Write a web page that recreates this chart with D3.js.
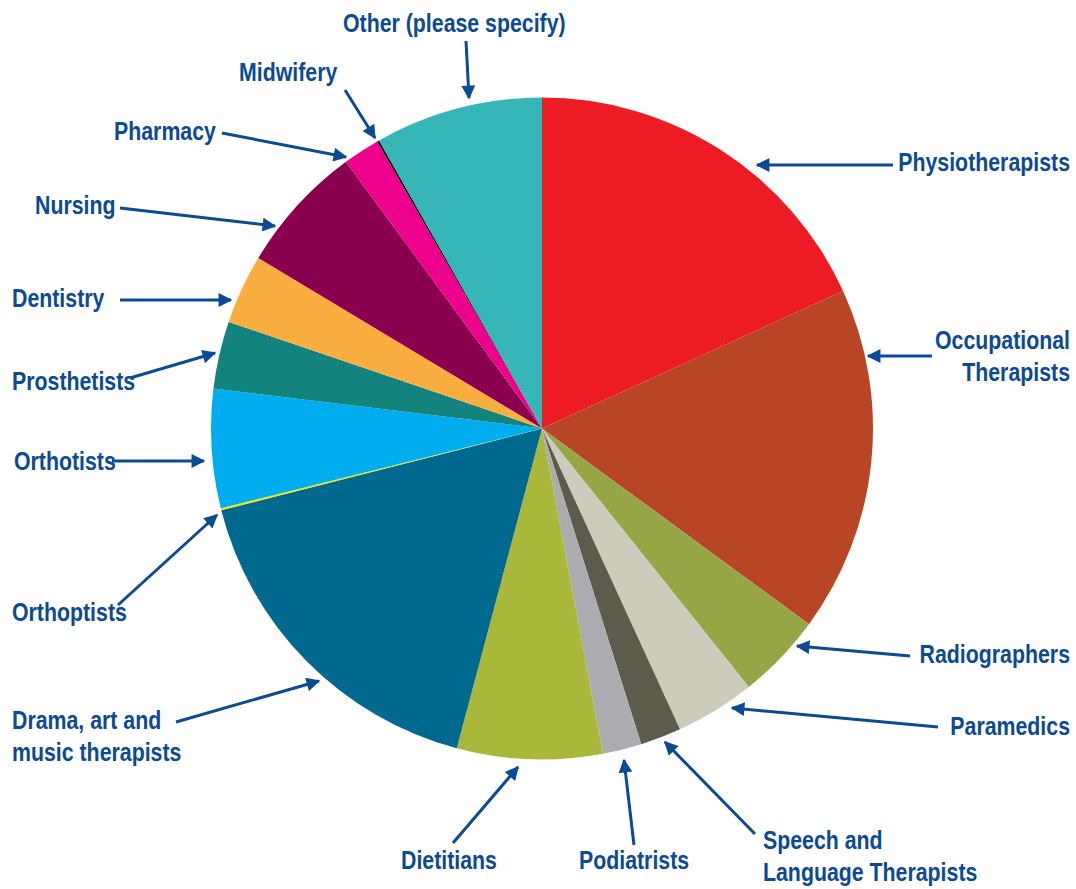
<!DOCTYPE html>
<html><head><meta charset="utf-8">
<script src="https://cdn.jsdelivr.net/npm/d3@7"></script>
<style>
html,body{margin:0;padding:0;background:#fff;}
svg text{font-family:"Liberation Sans","Arial",sans-serif;font-weight:bold;fill:#0b4a94;font-size:26px;}
</style></head>
<body><svg id="c" width="1076" height="889"></svg>
<script>
const categories = ["Physiotherapists","Occupational Therapists","Radiographers","Paramedics","Speech and Language Therapists","Podiatrists","Dietitians","Drama, art and music therapists","Orthoptists","Orthotists","Prosthetists","Dentistry","Nursing","Pharmacy","Midwifery","Other (please specify)"];
const values = [18.2,16.9,4.2,3.9,2.0,1.9,7.1,16.9,0.1,5.8,3.3,3.4,6.3,1.8,0.1,8.2];
const colors = ["#ed1c24","#b94527","#96a645","#cdccbc","#5d5b4c","#abacb0","#a9b83a","#006990","#f5e400","#00aeef","#13837e","#fbae40","#8b004e","#ec008c","#000000","#36b6b6"];

// annotation layout: label lines, text anchor position, arrow start/end
const annotations = [
 {lines:["Physiotherapists"], x:1070, y:171, anchor:"end", a:[893,165,757,165]},
 {lines:["Occupational","Therapists"], x:1070, y:349, anchor:"end", a:[932,356,868,356]},
 {lines:["Radiographers"], x:1070, y:663, anchor:"end", a:[910,656,797,646]},
 {lines:["Paramedics"], x:1070, y:735, anchor:"end", a:[938,727,732,708]},
 {lines:["Speech and","Language Therapists"], x:763, y:849, anchor:"start", a:[755,834,665,742]},
 {lines:["Podiatrists"], x:579, y:869, anchor:"start", a:[634,845,624,760]},
 {lines:["Dietitians"], x:401, y:869, anchor:"start", a:[453,843,518,767]},
 {lines:["Drama, art and","music therapists"], x:12, y:729, anchor:"start", a:[176,722,319,681]},
 {lines:["Orthoptists"], x:12, y:621, anchor:"start", a:[118,605,217,515]},
 {lines:["Orthotists"], x:14, y:470, anchor:"start", a:[112,461,204,461]},
 {lines:["Prosthetists"], x:12, y:390, anchor:"start", a:[130,378,215,353]},
 {lines:["Dentistry"], x:12, y:307, anchor:"start", a:[120,300,231,300]},
 {lines:["Nursing"], x:35, y:214, anchor:"start", a:[120,208,275,226]},
 {lines:["Pharmacy"], x:114, y:140, anchor:"start", a:[222,133,346,157]},
 {lines:["Midwifery"], x:239, y:81, anchor:"start", a:[345,90,375,138]},
 {lines:["Other (please specify)"], x:343, y:32, anchor:"start", a:[466,41,469,98]}
];

const svg = d3.select("#c");
const cx = 542, cy = 428.5, R = 331;

const pie = d3.pie().sort(null).value(d => d)(values);
const arc = d3.arc().innerRadius(0).outerRadius(R);
const g = svg.append("g").attr("transform", `translate(${cx},${cy})`);
g.selectAll("path").data(pie).join("path")
  .attr("d", arc)
  .attr("fill", (d,i) => colors[i]);

const defs = svg.append("defs");
defs.append("marker").attr("id","ah").attr("viewBox","0 0 10 10")
  .attr("refX",9).attr("refY",5).attr("markerWidth",5).attr("markerHeight",4.6)
  .attr("orient","auto").attr("markerUnits","strokeWidth")
  .append("path").attr("d","M0,0 L10,5 L0,10 Z").attr("fill","#0b4a94");

const ann = svg.append("g");
ann.selectAll("line").data(annotations).join("line")
  .attr("x1", d=>d.a[0]).attr("y1", d=>d.a[1])
  .attr("x2", d=>d.a[2]).attr("y2", d=>d.a[3])
  .attr("stroke","#0b4a94").attr("stroke-width",3)
  .attr("marker-end","url(#ah)");

const sx = 0.82;
ann.selectAll("text").data(annotations).join("text")
  .attr("transform", d=>`translate(${d.x},${d.y}) scale(${sx},1)`)
  .attr("text-anchor", d=>d.anchor)
  .each(function(d){
    const t = d3.select(this);
    d.lines.forEach((l,i)=>{
      t.append("tspan").attr("x", 0).attr("dy", i===0?0:32).text(l);
    });
  });
</script></body></html>
